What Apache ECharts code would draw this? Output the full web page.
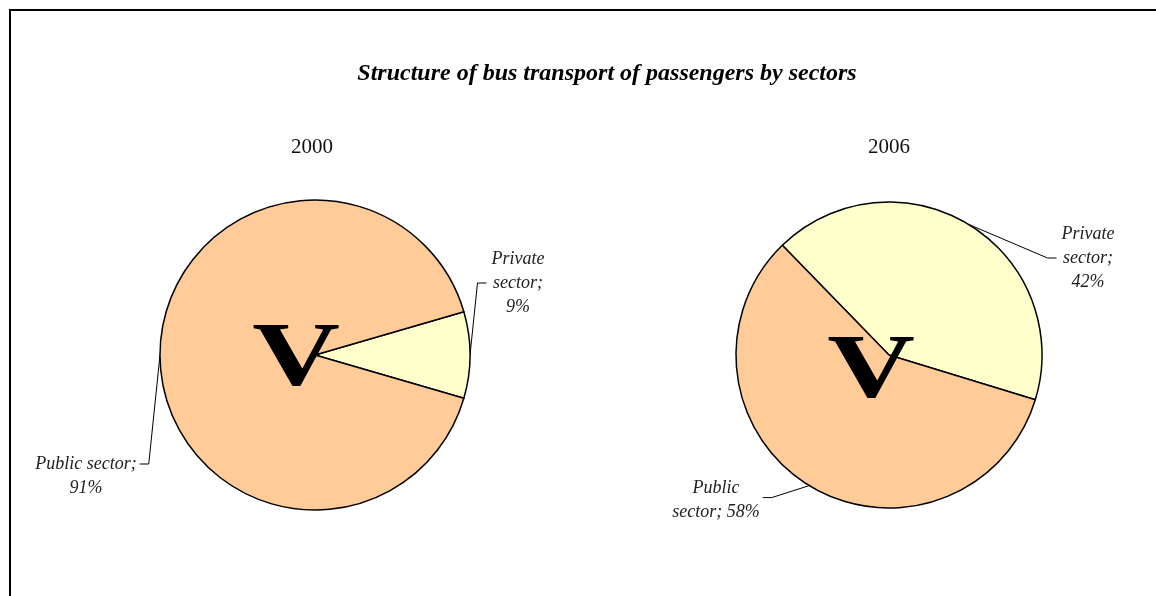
<!DOCTYPE html>
<html>
<head>
<meta charset="utf-8">
<script src="https://cdn.jsdelivr.net/npm/echarts@6/dist/echarts.min.js"></script>
<style>
  html, body { margin: 0; padding: 0; background: #fff; }
  #chartDom { width: 1156px; height: 596px; }
</style>
</head>
<body>
<div id="chartDom"></div>
<script>
// data
const sectors = ['Private sector', 'Public sector'];
const years = ['2000', '2006'];
const share2000 = [9, 91];
const share2006 = [42, 58];
// label text as written in the picture (line breaks differ per slice)
const labels2000 = ['Private\nsector;\n9%', 'Public sector;\n91%'];
const labels2006 = ['Private\nsector;\n42%', 'Public\nsector; 58%'];

const sliceColors = ['#FFFFCC', '#FFCC99'];
const serif = '"Liberation Serif", "Times New Roman", serif';

// where each label sits and which side its leader line meets [series][slice]
const labelPos = [
    [{ x: 518, y: 283, side: 'left', frac: 0.5 }, { x: 86, y: 476, side: 'right', frac: 0.25 }],
    [{ x: 1088, y: 258, side: 'left', frac: 0.5 }, { x: 716, y: 500, side: 'right', frac: 0.45 }]
];

function pieData(values, texts) {
    return values.map(function (v, i) {
        return {
            name: sectors[i],
            value: v,
            itemStyle: { color: sliceColors[i] },
            label: { formatter: texts[i] }
        };
    });
}

function placeLabel(params) {
    const p = labelPos[params.seriesIndex][params.dataIndex];
    const w = params.labelRect.width;
    const h = params.labelRect.height;
    const top = p.y - h / 2;
    const ay = top + h * p.frac;
    let pts = null;
    if (params.labelLinePoints) {
        const start = params.labelLinePoints[0];
        if (p.side === 'left') {
            const lx = p.x - w / 2;
            pts = [start, [lx - 14, ay], [lx - 5, ay]];
        } else {
            const rx = p.x + w / 2;
            pts = [start, [rx + 12, ay], [rx + 3, ay]];
        }
    }
    return { x: p.x, y: p.y, align: 'center', verticalAlign: 'middle', labelLinePoints: pts };
}

function pieSeries(values, texts, center, radius, startAngle) {
    return {
        type: 'pie',
        center: center,
        radius: radius,
        startAngle: startAngle,
        clockwise: true,
        animation: false,
        silent: true,
        itemStyle: { borderColor: '#000', borderWidth: 1.5 },
        label: {
            show: true,
            position: 'outside',
            fontFamily: serif,
            fontStyle: 'italic',
            fontSize: 18,
            lineHeight: 24,
            color: '#222',
            align: 'center'
        },
        labelLine: {
            show: true,
            length: 10,
            length2: 8,
            smooth: false,
            lineStyle: { color: '#000', width: 1 }
        },
        labelLayout: placeLabel,
        data: pieData(values, texts)
    };
}

const chart = echarts.init(document.getElementById('chartDom'));
const option = {
    backgroundColor: '#fff',
    title: [
        {
            text: 'Structure of bus transport of passengers by sectors',
            left: 602, top: 57, textAlign: 'center',
            textStyle: { fontFamily: serif, fontStyle: 'italic', fontWeight: 'bold', fontSize: 24, color: '#000' }
        },
        {
            text: years[0], left: 307, top: 132, textAlign: 'center',
            textStyle: { fontFamily: serif, fontWeight: 'normal', fontSize: 21, color: '#111' }
        },
        {
            text: years[1], left: 884, top: 132, textAlign: 'center',
            textStyle: { fontFamily: serif, fontWeight: 'normal', fontSize: 21, color: '#111' }
        }
    ],
    graphic: [
        {
            type: 'rect', silent: true, z: 0,
            shape: { x: 10, y: 10, width: 1170, height: 620 },
            style: { fill: 'none', stroke: '#000', lineWidth: 2 }
        },
        {
            type: 'text', silent: true, z: 100, x: 296, y: 362, scaleX: 1.35,
            style: { text: 'V', fontFamily: serif, fontWeight: 'bold', fontSize: 90, fill: '#000', align: 'center', verticalAlign: 'middle' }
        },
        {
            type: 'text', silent: true, z: 100, x: 871, y: 374, scaleX: 1.35,
            style: { text: 'V', fontFamily: serif, fontWeight: 'bold', fontSize: 90, fill: '#000', align: 'center', verticalAlign: 'middle' }
        }
    ],
    series: [
        pieSeries(share2000, labels2000, [315, 355], 155, 16.2),
        pieSeries(share2006, labels2006, [889, 355], 153, 134.2)
    ]
};
chart.setOption(option);
</script>
</body>
</html>
